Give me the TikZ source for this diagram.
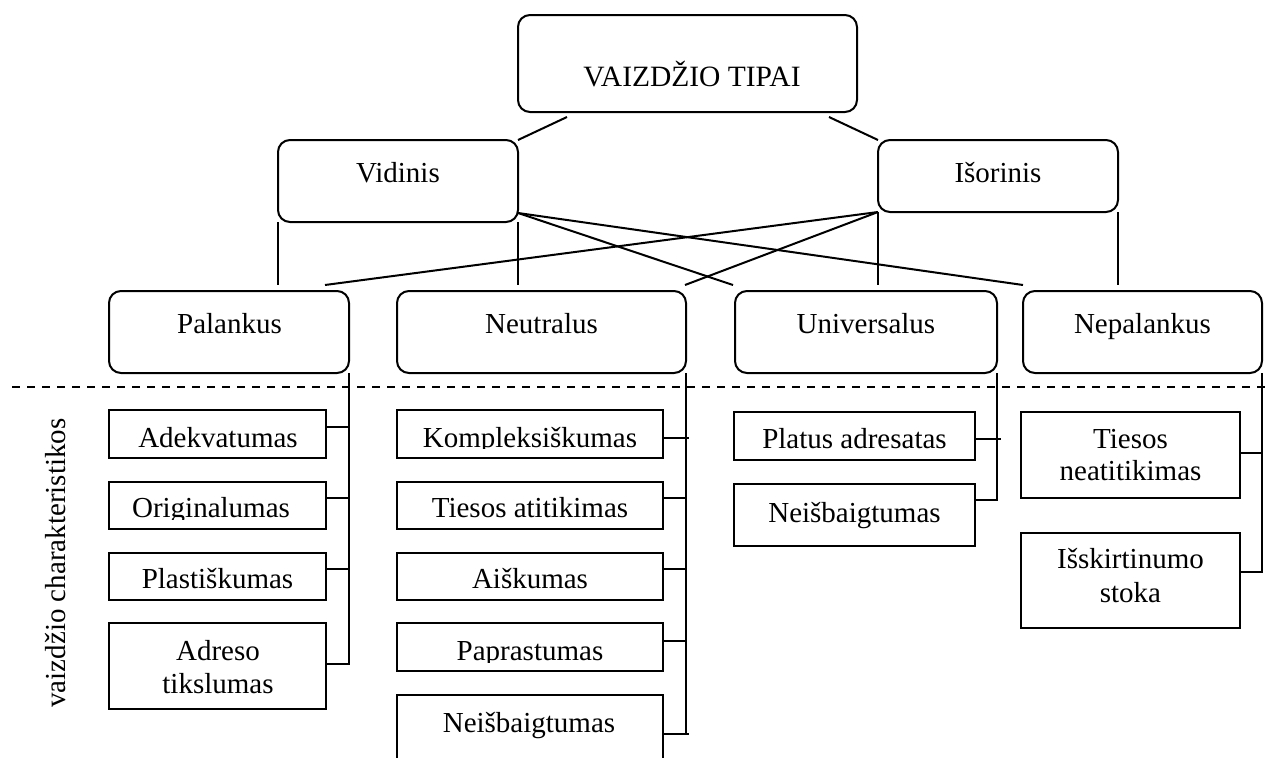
\documentclass[tikz,border=0pt]{standalone}
\usepackage{fontspec}
\setmainfont{Liberation Serif}
\begin{document}
\begin{tikzpicture}[x=1pt,y=-1pt,
  rbox/.style={draw, line width=2pt, rounded corners=12pt, inner sep=0pt, outer sep=0pt},
  sbox/.style={draw, line width=2pt, inner sep=0pt, outer sep=0pt},
  lbl/.style={anchor=base, inner sep=0pt, font=\fontsize{29}{33}\selectfont},
  lbltop/.style={anchor=base, inner sep=0pt, font=\fontsize{29.5}{33}\selectfont},
  link/.style={line width=2pt},
  divider/.style={line width=2pt, dash pattern=on 8pt off 7pt}]
\clip (0,0) rectangle (1270,758);

% top level
\node[rbox, minimum width=339pt, minimum height=97pt] (top) at (687.5,63.5) {};
\node[lbltop] (top-t) at (692,86) {VAIZDŽIO TIPAI};

% second level
\node[rbox, minimum width=240pt, minimum height=82pt] (vid) at (398,181) {};
\node[lbl] (vid-t) at (398,182) {Vidinis};
\node[rbox, minimum width=240pt, minimum height=72pt] (isor) at (998,176) {};
\node[lbl] (isor-t) at (998,182) {Išorinis};

% third level
\node[rbox, minimum width=240pt, minimum height=82pt] (pal) at (229,332) {};
\node[lbl] (pal-t) at (229.5,333) {Palankus};
\node[rbox, minimum width=289pt, minimum height=82pt] (neu) at (541.5,332) {};
\node[lbl] (neu-t) at (541.5,333) {Neutralus};
\node[rbox, minimum width=262pt, minimum height=82pt] (uni) at (866,332) {};
\node[lbl] (uni-t) at (866,333) {Universalus};
\node[rbox, minimum width=239pt, minimum height=82pt] (nep) at (1142.5,332) {};
\node[lbl] (nep-t) at (1142.5,333) {Nepalankus};

% links between levels
\coordinate (tl) at (567,117);
\coordinate (tr) at (829,117);
\draw[link] (tl) -- (vid.north east);
\draw[link] (tr) -- (isor.north west);

\coordinate (pal-a) at (278,285);
\coordinate (pal-b) at (325,285);
\coordinate (neu-a) at (518,285);
\coordinate (neu-b) at (685,285);
\coordinate (uni-a) at (733,285);
\coordinate (uni-b) at (878,285);
\coordinate (nep-a) at (1023,285);
\coordinate (nep-b) at (1118,285);
\draw[link] (vid.south west) -- (pal-a);
\draw[link] (vid.south east) -- (neu-a);
\draw[link] ([yshift=9pt]vid.south east) -- (uni-a);
\draw[link] ([yshift=9pt]vid.south east) -- (nep-a);
\draw[link] (isor.south west) -- (pal-b);
\draw[link] (isor.south west) -- (neu-b);
\draw[link] (isor.south west) -- (uni-b);
\draw[link] (isor.south east) -- (nep-b);

% divider and side caption
\coordinate (dl) at (12,387);
\coordinate (dr) at (1270,387);
\draw[divider] (dl) -- (dr);
\node[lbl, rotate=90] (side) at (65,563) {vaizdžio charakteristikos};

% Palankus characteristics
\node[sbox, minimum width=217pt, minimum height=48pt] (adek) at (217.5,434) {};
\node[lbl] (adek-t) at (218,447) {Adekvatumas};
\node[sbox, minimum width=217pt, minimum height=47pt] (orig) at (217.5,505.5) {};
\begin{scope}
  \clip (109,482) rectangle (326,519);
  \node[lbl] (orig-t) at (211,517) {Originalumas};
\end{scope}
\node[sbox, minimum width=217pt, minimum height=47pt] (plas) at (217.5,576.5) {};
\node[lbl] (plas-t) at (217.5,588) {Plastiškumas};
\node[sbox, minimum width=217pt, minimum height=86pt] (adre) at (217.5,666) {};
\node[lbl] (adre-t1) at (218,660) {Adreso};
\node[lbl] (adre-t2) at (218,693) {tikslumas};

\draw[link] ([yshift=7pt]adek.east) -- ([yshift=7pt]adek.east -| pal.east);
\draw[link] ([yshift=7.5pt]orig.east) -- ([yshift=7.5pt]orig.east -| pal.east);
\draw[link] ([yshift=7.5pt]plas.east) -- ([yshift=7.5pt]plas.east -| pal.east);
\draw[link] (pal.south east) |- ([yshift=2pt]adre.east);

% Neutralus characteristics
\node[sbox, minimum width=266pt, minimum height=48pt] (komp) at (530,434) {};
\begin{scope}
  \clip (397,410) rectangle (663,448);
  \node[lbl] (komp-t) at (530,447) {Kompleksiškumas};
\end{scope}
\node[sbox, minimum width=266pt, minimum height=47pt] (ties) at (530,505.5) {};
\node[lbl] (ties-t) at (530,517) {Tiesos atitikimas};
\node[sbox, minimum width=266pt, minimum height=47pt] (aisk) at (530,576.5) {};
\node[lbl] (aisk-t) at (530,588) {Aiškumas};
\node[sbox, minimum width=266pt, minimum height=48pt] (papr) at (530,647) {};
\begin{scope}
  \clip (397,623) rectangle (663,662);
  \node[lbl] (papr-t) at (530,660) {Paprastumas};
\end{scope}
\node[sbox, minimum width=266pt, minimum height=95pt] (neis) at (530,742.5) {};
\node[lbl] (neis-t) at (529,732) {Neišbaigtumas};

\draw[link] ([yshift=-4pt]komp.east) -- ([xshift=3pt,yshift=-4pt]komp.east -| neu.east);
\draw[link] ([yshift=7.5pt]ties.east) -- ([yshift=7.5pt]ties.east -| neu.east);
\draw[link] ([yshift=7.5pt]aisk.east) -- ([yshift=7.5pt]aisk.east -| neu.east);
\draw[link] ([yshift=6pt]papr.east) -- ([yshift=6pt]papr.east -| neu.east);
\draw[link] (neu.south east) -- ([yshift=8.5pt]neis.east -| neu.east);
\draw[link] ([yshift=8.5pt]neis.east) -- ([xshift=3pt,yshift=8.5pt]neis.east -| neu.east);

% Universalus characteristics
\node[sbox, minimum width=241pt, minimum height=48pt] (plat) at (854.5,436) {};
\node[lbl] (plat-t) at (854.5,448) {Platus adresatas};
\node[sbox, minimum width=241pt, minimum height=62pt] (neib) at (854.5,515) {};
\node[lbl] (neib-t) at (854.5,522) {Neišbaigtumas};

\draw[link] ([yshift=-3pt]plat.east) -- ([xshift=4pt,yshift=-3pt]plat.east -| uni.east);
\draw[link] (uni.south east) |- ([yshift=15pt]neib.east);

% Nepalankus characteristics
\node[sbox, minimum width=219pt, minimum height=86pt] (tne) at (1130.5,455) {};
\node[lbl] (tne-t1) at (1130.5,448) {Tiesos};
\node[lbl] (tne-t2) at (1130.5,480) {neatitikimas};
\node[sbox, minimum width=219pt, minimum height=95pt] (issk) at (1130.5,580.5) {};
\node[lbl] (issk-t1) at (1130.5,568) {Išskirtinumo};
\node[lbl] (issk-t2) at (1130.5,602) {stoka};

\draw[link] ([yshift=2pt]tne.east) -- ([yshift=2pt]tne.east -| nep.east);
\draw[link] (nep.south east) |- ([yshift=8.5pt]issk.east);
\end{tikzpicture}
\end{document}
